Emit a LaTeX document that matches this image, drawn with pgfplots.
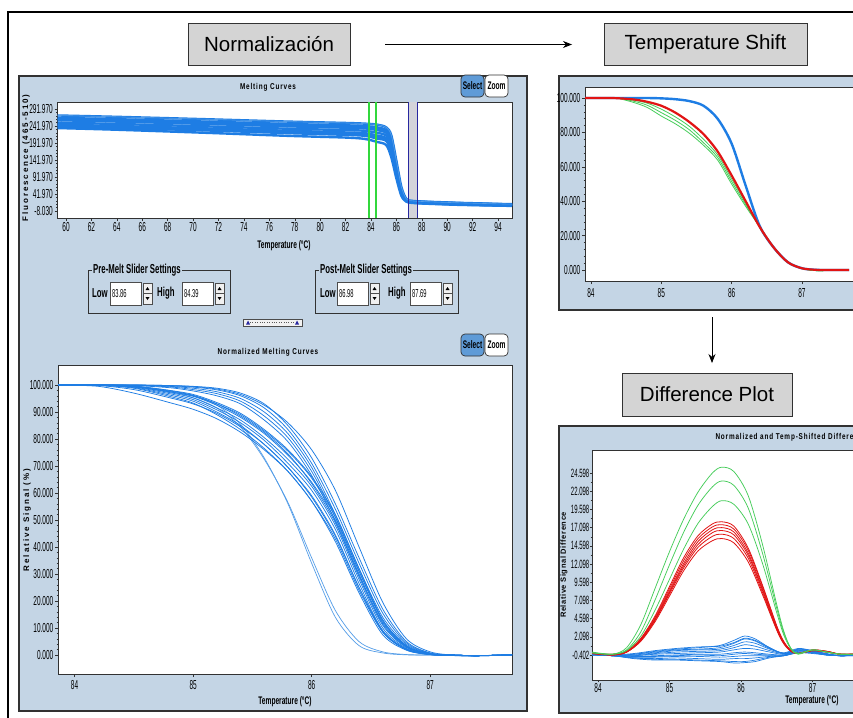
\documentclass[border=0pt]{standalone}
\usepackage{pgfplots}
\pgfplotsset{compat=1.18}
\usepackage{pgfplotstable}
\usepackage{fontspec}
\usetikzlibrary{arrows.meta}
\setmainfont{Liberation Sans}
\newfontfamily\narrow[FakeStretch=0.6]{Liberation Sans}
\newfontfamily\tickf[FakeStretch=0.5]{Liberation Sans}
\newfontfamily\titlef[FakeStretch=0.75,LetterSpace=10]{Liberation Sans}
\newfontfamily\spaced[LetterSpace=24]{Liberation Sans}
\newfontfamily\spacedb[LetterSpace=8]{Liberation Sans}

\definecolor{panelbg}{RGB}{196,213,229}
\definecolor{boxgray}{RGB}{212,212,212}
\definecolor{curveblue}{RGB}{30,125,228}
\definecolor{lightblue}{RGB}{85,158,232}
\definecolor{cred}{RGB}{225,20,20}
\definecolor{cgreen}{RGB}{70,205,90}
\definecolor{slgreen}{RGB}{50,215,60}
\definecolor{slblue}{RGB}{40,40,160}
\definecolor{slfill}{RGB}{212,212,218}
\definecolor{selblue}{RGB}{95,155,215}
\definecolor{edge}{RGB}{50,50,50}

\newcommand\tk{\fontsize{13}{14}\selectfont\tickf}
\newcommand\lab{\fontsize{11}{12}\selectfont\narrow\bfseries}
\newcommand\slf{\fontsize{13}{14}\selectfont\narrow\bfseries}
\newcommand\ttl{\fontsize{8.5}{9}\selectfont\titlef\bfseries}
\newcommand\boxfont{\fontsize{20.5}{24}\selectfont}

% melting curves (raw fluorescence)
\pgfplotstableread{
T m1 m2 m3 m4 m5 m6 m7 m8 m9
59.33 273 266 259 252 246 240 236 262 244
64 269 262 255 248 242 236 231 258 240
71 262 255 248 241 235 229 222 251 232
77.5 255 248 241 234 228 221 213 244 225
82 251 244 237 230 223 216 208 240 220
83.5 249 242 235 228 221 213 204 238 217
84.5 246 238 230 222 214 205 195 234 210
85.2 238 230 222 214 206 198 186 226 200
85.6 215 205 196 186 176 166 150 200 170
86.0 140 128 120 112 105 98 88 124 102
86.4 62 56 52 48 44 41 36 54 42
86.8 27 25 24 23 22 21 19 25 21
87.2 22 21 20 19 18 17 16 21 18
88 20 19 18 17 16 15 14 19 16
91 16 15 14 13 12 11 10 15 12
95.1 12 11 10 9 8 8 7 11 8
}\melt

% normalized melting curves
\pgfplotstableread{
T a1 a2 d1 d2 b1 b2 b3 b4 b5 b6 b7 b8 c1 c2 c3 c4 c5 c6
83.86 100 100 100 100 100 100 100 100 100 100 100 100 100 100 100 100 100 100
84.2 100 100 99.5 99.8 100 100 100 99.9 99.9 99.9 99.9 100 100 100 100 100 100 100
84.5 99.6 99.5 97 98.3 99.6 99.5 99.4 99.2 99.0 98.8 99.3 99.5 100 100 99.9 99.9 99.8 100
84.8 98 97.6 93.5 95.3 98.0 97.5 97.2 96.8 96.3 95.8 97.5 97.8 99.8 99.7 99.5 99.3 99 99.8
85.0 96 95.3 91 93 96.5 95.8 95.2 94.6 94 93.3 96 96.2 99.5 99.2 98.8 98.3 97.8 99.4
85.2 92.5 91.5 87.5 89.5 93.5 92.5 91.5 90.8 90 89 93 93 98.8 98.2 97.5 96.8 96 98.5
85.4 85.5 84.5 82.5 84.5 89.5 88 87 86 85 83.5 89 88.5 97 96 95 94 93 96.5
85.6 73 72.5 76 78 83.5 82 80.5 79.5 78 76.5 83 82.5 93 91.5 90 88.5 87 92.5
85.8 56 56.5 68 69.5 76 74 72.5 71 69.5 68 75.5 74.5 85 83.5 82 80.5 79 86
86.0 34 36 57 58.5 66 64 62.5 61 59 57 65.5 63.5 73 71 69.5 68 66.5 76
86.2 14 16.5 43 44 52 50 48 46.5 44.5 42 51 49 56 54 52 51 49.5 61
86.4 3.5 5 24 25 32 30 28 26.5 25 23 31 29 36 34 32 31 29.5 40
86.6 0.8 1.2 8.5 9 13 11.5 10 9 8.5 7.5 12.5 11 17 15.5 14 13 12 19.5
86.8 0.1 0.2 2 2.2 3.5 3 2.5 2.2 2 1.8 3.3 2.8 5 4.5 4 3.5 3.2 6
87.0 0 0 0.2 0.3 0.5 0.4 0.3 0.3 0.2 0.2 0.5 0.4 0.8 0.7 0.6 0.5 0.4 1.2
87.2 -0.2 -0.2 -0.1 -0.1 0 0 0 0 0 0 0 0 -0.1 -0.1 0 0 0 0
87.4 -0.2 -0.2 -0.3 -0.3 -0.2 -0.2 -0.2 -0.2 -0.2 -0.2 -0.2 -0.2 -0.2 -0.3 -0.2 -0.2 -0.2 -0.2
87.69 0 0 0.1 0.1 0.1 0.1 0.1 0.1 0.1 0.1 0.1 0.1 0.1 0.1 0.2 0.1 0.1 0.1
}\norm

% difference plot: green and red groups
\pgfplotstableread{
T g1 g2 g3 r1 r2 r3 r4 r5 r6
83.916 -0.1 0.0 -0.1 -0.2 -0.1 -0.2 -0.2 -0.1 -0.2
84.2 -0.3 -0.3 -0.3 -0.4 -0.4 -0.3 -0.4 -0.4 -0.3
84.4 0.6 0.3 0.2 0.1 0.0 0.1 0.0 0.0 0.0
84.6 3.8 2.8 2.2 1.9 1.8 1.7 1.6 1.6 1.5
84.8 8.8 7.2 5.8 5.0 4.8 4.6 4.5 4.4 4.2
85.0 13.8 12.0 10.0 9.0 8.7 8.4 8.2 8.0 7.7
85.2 18.3 16.5 14.2 13.0 12.6 12.2 11.9 11.6 11.2
85.4 22.0 20.2 17.7 16.0 15.6 15.2 14.8 14.4 13.9
85.6 24.6 22.7 20.0 17.6 17.2 16.8 16.4 15.9 15.3
85.73 25.4 23.5 20.8 17.9 17.5 17.1 16.7 16.2 15.6
85.9 24.8 22.9 20.3 17.3 16.9 16.5 16.1 15.6 15.0
86.1 21.5 19.8 17.6 14.3 14.0 13.6 13.3 12.9 12.4
86.3 14.8 13.6 12.2 9.2 9.0 8.7 8.5 8.2 7.9
86.5 6.5 6.0 5.4 3.6 3.5 3.3 3.2 3.1 3.0
86.6 2.8 2.6 2.3 1.4 1.4 1.3 1.2 1.2 1.1
86.7 0.4 0.5 0.4 0.2 0.2 0.2 0.1 0.1 0.1
86.8 -0.3 -0.2 -0.2 -0.2 -0.2 -0.2 -0.2 -0.2 -0.2
87.0 0.3 0.3 0.3 0.3 0.3 0.2 0.2 0.2 0.2
87.2 0.0 0.0 0.0 0.1 0.1 0.0 0.0 0.1 0.0
87.4 -0.3 -0.3 -0.3 -0.3 -0.3 -0.3 -0.3 -0.3 -0.3
87.69 -0.3 -0.3 -0.3 -0.3 -0.3 -0.3 -0.2 -0.2 -0.3
}\diffgr

% difference plot: blue group
\pgfplotstableread{
T k1 k2 k3 k4 k5 k6 k7 k8 k9 k10 k11 k12
83.916 -0.2 -0.3 -0.4 -0.3 -0.3 -0.4 -0.3 -0.4 -0.3 -0.4 -0.3 -0.4
84.2 -0.5 -0.5 -0.4 -0.4 -0.5 -0.5 -0.5 -0.5 -0.5 -0.5 -0.4 -0.5
84.5 -0.3 -0.3 -0.4 -0.5 -0.5 -0.6 -0.7 -0.8 -0.8 -0.9 -0.2 -0.6
84.8 0.1 0.0 -0.1 -0.2 -0.3 -0.5 -0.7 -0.9 -1.0 -1.1 0.2 -0.6
85.1 0.4 0.3 0.2 0.0 -0.2 -0.4 -0.6 -0.8 -1.0 -1.1 0.5 -0.5
85.4 0.6 0.4 0.3 0.1 -0.1 -0.3 -0.6 -0.9 -1.1 -1.2 0.7 -0.4
85.7 0.9 0.6 0.4 0.2 0.0 -0.3 -0.7 -1.0 -1.2 -1.3 0.8 -0.5
85.9 1.6 1.2 0.9 0.6 0.3 -0.1 -0.6 -0.9 -1.3 -1.5 1.3 -0.3
86.05 2.2 1.8 1.4 1.0 0.5 0.0 -0.5 -0.9 -1.3 -1.45 1.9 -0.2
86.2 1.8 1.5 1.2 0.8 0.4 -0.1 -0.5 -0.8 -1.1 -1.3 1.6 -0.3
86.4 0.6 0.5 0.4 0.2 0.0 -0.3 -0.5 -0.6 -0.7 -0.8 0.6 -0.4
86.6 -0.2 -0.2 -0.1 -0.2 -0.3 -0.4 -0.5 -0.5 -0.5 -0.5 -0.2 -0.4
86.8 0.3 0.4 0.5 0.3 0.2 0.1 0.0 0.0 -0.1 -0.1 0.4 0.2
87.0 0.1 0.2 0.2 0.1 0.0 0.0 -0.1 -0.1 -0.1 -0.2 0.1 0.0
87.2 -0.3 -0.3 -0.2 -0.3 -0.3 -0.4 -0.4 -0.4 -0.4 -0.4 -0.3 -0.3
87.4 -0.5 -0.5 -0.5 -0.5 -0.5 -0.5 -0.5 -0.5 -0.5 -0.5 -0.5 -0.5
87.69 -0.4 -0.4 -0.4 -0.5 -0.4 -0.4 -0.4 -0.5 -0.4 -0.4 -0.4 -0.4
}\diffb

\pgfplotsset{
  sw/.style={
    scale only axis, clip=true, no markers,
    axis background/.style={fill=white},
    axis line style={draw=edge, line width=0.8pt},
    tick align=outside, tick pos=left,
    major tick length=3pt, minor tick length=1.5pt,
    every tick/.style={draw=edge, line width=0.4pt},
    ticklabel style={font=\tk, inner sep=1.5pt},
    every axis plot/.append style={smooth, line join=round},
  }}

% spinner and entry box for the slider settings
\newcommand\spin[2]{%
  \fill[gray!12] (#1,#2) rectangle ++(9,21);
  \draw[gray!60!black, line width=0.4pt] (#1,#2) rectangle ++(9,21);
  \draw[gray!60!black, line width=0.4pt] (#1,#2+10.5) -- ++(9,0);
  \fill (#1+2.5,#2+7) -- (#1+6.5,#2+7) -- (#1+4.5,#2+4) -- cycle;
  \fill (#1+2.5,#2+14) -- (#1+6.5,#2+14) -- (#1+4.5,#2+17) -- cycle;}
\newcommand\inbox[3]{%
  \fill[white] (#1,#2) rectangle ++(31,23);
  \draw[gray!60!black, line width=0.5pt] (#1,#2) rectangle ++(31,23);
  \node[anchor=west, inner sep=0pt, font=\fontsize{11.5}{12}\selectfont\tickf] at (#1+2,#2+11.5) {#3};}
\newcommand\btns[1]{%
  \draw[edge, fill=selblue, rounded corners=4pt, line width=0.7pt] (461,#1) rectangle (484,#1+22);
  \node[font=\fontsize{11}{12}\selectfont\narrow\bfseries] at (472.5,#1+11) {Select};
  \draw[edge, fill=white, rounded corners=4pt, line width=0.7pt] (485,#1) rectangle (508,#1+22);
  \node[font=\fontsize{11}{12}\selectfont\narrow\bfseries] at (496.5,#1+11) {Zoom};}

\begin{document}
\begin{tikzpicture}[x=1pt,y=-1pt]
\useasboundingbox (0,0) rectangle (853,717);
\begin{scope}
\clip (0,0) rectangle (853,717);
\fill[white] (0,0) rectangle (853,717);
\draw[black, line width=1.3pt] (8,720) -- (8,12) -- (860,12);

% step boxes and arrows
\node[draw=edge, line width=1pt, fill=boxgray, minimum width=162pt, minimum height=42pt, inner sep=0pt, font=\boxfont] at (269,44.5) {Normalización};
\draw[line width=0.8pt, -{Stealth[length=9pt,width=7pt]}] (385,44.5) -- (572,44.5);
\node[draw=edge, line width=1pt, fill=boxgray, minimum width=203pt, minimum height=42pt, inner sep=0pt, font=\boxfont] at (705.5,44.5) {Temperature Shift};
\draw[line width=0.8pt, -{Stealth[length=9pt,width=7pt]}] (712,317) -- (712,363);
\node[draw=edge, line width=1pt, fill=boxgray, minimum width=170pt, minimum height=43pt, inner sep=0pt, font=\boxfont] at (707,394.5) {Difference Plot};

% panels
\fill[panelbg] (19,76) rectangle (527,711);
\draw[edge, line width=1.2pt] (19,76) rectangle (527,711);
\fill[panelbg] (559,76) rectangle (860,310);
\draw[edge, line width=1.2pt] (860,76) -- (559,76) -- (559,310) -- (860,310);
\fill[panelbg] (559,426) rectangle (860,713);
\draw[edge, line width=1.2pt] (860,426) -- (559,426) -- (559,713) -- (860,713);

% melting curves
\begin{axis}[sw, at={(57.5pt,-102pt)}, anchor=north west, width=454.5pt, height=116pt,
  xmin=59.33, xmax=95.1, ymin=-28.6, ymax=312.6,
  xtick={60,62,...,94},
  xticklabels={60,62,64,66,68,70,72,74,76,78,80,82,84,86,88,90,92,94},
  ytick={-8.03,41.97,91.97,141.97,191.97,241.97,291.97},
  yticklabels={-8.030,41.970,91.970,141.970,191.970,241.970,291.970},
  minor y tick num=4]
\fill[slfill] (axis cs:86.98,-28.6) rectangle (axis cs:87.69,312.6);
\pgfplotsinvokeforeach{m1,m2,m3,m4,m5,m6,m7,m8,m9}{
  \addplot[curveblue, line width=2.4pt] table[x=T,y=#1]{\melt};}
\addplot[lightblue, line width=0.6pt] table[x=T,y=m1]{\melt};
\addplot[slgreen, line width=1.4pt] coordinates {(83.86,-28.6)(83.86,312.6)};
\addplot[slgreen, line width=1.4pt] coordinates {(84.39,-28.6)(84.39,312.6)};
\addplot[slblue, line width=1.2pt] coordinates {(86.98,-28.6)(86.98,312.6)};
\addplot[slblue, line width=1.2pt] coordinates {(87.69,-28.6)(87.69,312.6)};
\end{axis}

% normalized melting curves
\begin{axis}[sw, at={(58pt,-365pt)}, anchor=north west, width=454pt, height=309pt,
  xmin=83.86, xmax=87.69, ymin=-7, ymax=107.4,
  xtick={84,85,86,87}, xticklabels={84,85,86,87},
  xticklabel style={yshift=-2pt},
  ytick={0,10,...,100},
  yticklabels={0.000,10.000,20.000,30.000,40.000,50.000,60.000,70.000,80.000,90.000,100.000},
  minor y tick num=4]
\pgfplotsinvokeforeach{a1,a2}{
  \addplot[lightblue, line width=0.7pt] table[x=T,y=#1]{\norm};}
\pgfplotsinvokeforeach{d1,d2,b1,b2,b3,b4,b5,b6,b7,b8,c1,c2,c3,c4,c5,c6}{
  \addplot[curveblue, line width=0.75pt] table[x=T,y=#1]{\norm};}
\end{axis}

% temperature shifted curves
\begin{axis}[sw, at={(585pt,-87pt)}, anchor=north west, width=321pt, height=194pt,
  xmin=83.915, xmax=88.48, ymin=-6.4, ymax=106.4,
  xtick={84,85,86,87}, xticklabels={84,85,86,87},
  xticklabel style={yshift=-3pt},
  ytick={0,20,...,100},
  yticklabels={0.000,20.000,40.000,60.000,80.000,100.000},
  minor y tick num=4]
\addplot[curveblue, line width=2.4pt] coordinates {(83.915,100)(84.3,100)(84.6,100)(84.8,100)(85.0,99.8)(85.2,99.3)(85.4,98.2)(85.6,95.5)(85.8,88)(86.0,73.5)(86.2,49)(86.4,25.5)(86.6,13)(86.8,4.5)(87.0,1)(87.2,0.1)(87.4,0)(87.67,0)};
\addplot[cgreen, line width=0.8pt] coordinates {(84.37,100)(84.6,98.8)(84.8,97)(85.0,93.5)(85.2,89)(85.4,83.5)(85.6,76)(85.8,67)(86.0,53)(86.2,39)(86.4,25)(86.6,13)(86.8,4.5)(87.0,1)(87.15,-0.2)(87.3,-0.5)};
\addplot[cgreen, line width=0.8pt] coordinates {(84.37,100)(84.6,98.2)(84.8,95.8)(85.0,91.5)(85.2,87)(85.4,81.5)(85.6,74)(85.8,65.5)(86.0,51.5)(86.2,38)(86.4,25)(86.6,13)(86.8,4.5)(87.0,1)(87.15,-0.2)(87.3,-0.5)};
\addplot[cgreen, line width=0.8pt] coordinates {(84.37,100)(84.6,97.5)(84.8,94.5)(85.0,89.5)(85.2,85)(85.4,79.5)(85.6,72.5)(85.8,64)(86.0,50)(86.2,37)(86.4,25)(86.6,13)(86.8,4.5)(87.0,1)(87.15,-0.2)(87.3,-0.5)};
\addplot[cred, line width=2.2pt] coordinates {(83.915,100)(84.3,100)(84.6,99.2)(84.8,97.8)(85.0,95.5)(85.2,91.5)(85.4,86)(85.6,79)(85.8,69)(86.0,55)(86.2,40)(86.4,25)(86.6,13)(86.8,4.5)(87.0,1)(87.2,0.1)(87.4,0)(87.67,0)};
\end{axis}

% difference plot
\begin{axis}[sw, at={(592pt,-450pt)}, anchor=north west, width=440pt, height=230pt,
  xmin=83.916, xmax=90.07, ymin=-3.84, ymax=27.76,
  xtick={84,85,86,87}, xticklabels={84,85,86,87},
  ytick={-0.402,2.098,4.598,7.098,9.598,12.098,14.598,17.098,19.598,22.098,24.598},
  yticklabels={-0.402,2.098,4.598,7.098,9.598,12.098,14.598,17.098,19.598,22.098,24.598},
  yticklabel style={font=\fontsize{12}{13}\selectfont\tickf, inner xsep=0.5pt},
  major tick length=2pt,
  minor y tick num=1]
\pgfplotsinvokeforeach{k1,k2,k3,k4,k5,k6,k7,k8,k9,k10,k11,k12}{
  \addplot[curveblue, line width=0.7pt] table[x=T,y=#1]{\diffb};}
\pgfplotsinvokeforeach{r1,r2,r3,r4,r5,r6}{
  \addplot[cred, line width=0.8pt] table[x=T,y=#1]{\diffgr};}
\pgfplotsinvokeforeach{g1,g2,g3}{
  \addplot[cgreen, line width=0.75pt] table[x=T,y=#1]{\diffgr};}
\end{axis}

% titles and axis labels
\node[font=\ttl] at (268,87) {Melting Curves};
\node[font=\ttl] at (268,352) {Normalized Melting Curves};
\node[font=\ttl, anchor=west] at (712,437) {Normalized and Temp-Shifted Difference Plot};
\node[font=\lab] at (284,246) {Temperature (°C)};
\node[font=\lab] at (285,702) {Temperature (°C)};
\node[font=\lab] at (812,701) {Temperature (°C)};
\node[rotate=90, font=\fontsize{8}{9}\selectfont\spaced\bfseries] at (26,158) {Fluorescence (465-510)};
\node[rotate=90, font=\fontsize{8}{9}\selectfont\spaced\bfseries] at (27,520) {Relative Signal (\%)};
\node[rotate=90, font=\fontsize{7.5}{9}\selectfont\spacedb\bfseries] at (564,565) {Relative Signal Difference};

% buttons
\btns{75}
\btns{334}

% slider settings
\draw[edge, line width=0.8pt] (88,270) rectangle (230,313);
\node[fill=panelbg, inner xsep=1pt, inner ysep=0pt, anchor=west, font=\slf] at (92,270) {Pre-Melt Slider Settings};
\node[anchor=west, inner sep=0pt, font=\slf] at (92,293.5) {Low};
\inbox{110}{282}{83.86}
\spin{143}{283}
\node[anchor=west, inner sep=0pt, font=\slf] at (157,293.5) {High};
\inbox{182}{282}{84.39}
\spin{215}{283}
\draw[edge, line width=0.8pt] (315,270) rectangle (458,313);
\node[fill=panelbg, inner xsep=1pt, inner ysep=0pt, anchor=west, font=\slf] at (319,270) {Post-Melt Slider Settings};
\node[anchor=west, inner sep=0pt, font=\slf] at (320,293.5) {Low};
\inbox{337}{282}{86.98}
\spin{370}{283}
\node[anchor=west, inner sep=0pt, font=\slf] at (388,293.5) {High};
\inbox{410}{282}{87.69}
\spin{443}{283}

% splitter handle
\draw[gray!60!black, fill=gray!10, line width=0.4pt] (243,319) rectangle (302,326);
\draw[gray!70!black, dotted, line width=0.4pt] (250,322.5) -- (295,322.5);
\fill[slblue] (246,324.5) -- (250,324.5) -- (248,320.5) -- cycle;
\fill[slblue] (295,324.5) -- (299,324.5) -- (297,320.5) -- cycle;
\end{scope}
\end{tikzpicture}
\end{document}
